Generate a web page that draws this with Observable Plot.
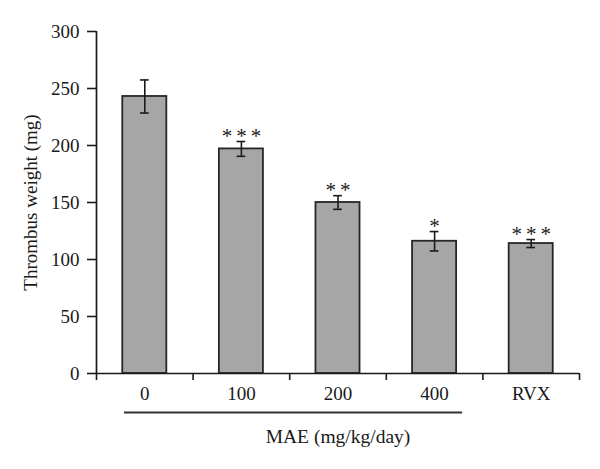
<!DOCTYPE html>
<html>
<head>
<meta charset="utf-8">
<script src="https://cdn.jsdelivr.net/npm/d3@7"></script>
<script src="https://cdn.jsdelivr.net/npm/@observablehq/plot@0.6"></script>
<style>
  html, body { margin: 0; padding: 0; background: #fff; }
  .stars text { letter-spacing: 4px; }
</style>
</head>
<body>
<div id="chart"></div>
<script>
const categories = ["0", "100", "200", "400", "RVX"];
const means = [243, 197, 150, 116, 114];
const errors = [14.5, 6.5, 6, 8.5, 3.5];
const stars = ["", "***", "**", "*", "***"];
const yTicks = [0, 50, 100, 150, 200, 250, 300];
const yLabel = "Thrombus weight (mg)";
const groupLabel = "MAE (mg/kg/day)";
const groupStart = 0; // index of "0"
const groupEnd = 3;   // index of "400"

const data = categories.map((c, i) => ({i, c, mean: means[i], err: errors[i], star: stars[i]}));
const boundaries = d3.range(categories.length + 1).map(k => k - 0.5);
const half = 0.228;
const cap = 0.045;
const ink = "#1a1a1a";

const chart = Plot.plot({
  width: 600,
  height: 469,
  marginLeft: 96,
  marginRight: 21,
  marginTop: 31,
  marginBottom: 96,
  style: {fontFamily: "'Liberation Serif', 'Times New Roman', serif", fontSize: "19px", color: ink, background: "#fff"},
  x: {type: "linear", domain: [-0.5, categories.length - 0.5]},
  y: {domain: [0, 300]},
  marks: [
    Plot.rectY(data, {x1: d => d.i - half, x2: d => d.i + half, y1: 0, y2: "mean", fill: "#a6a6a6", stroke: "#262626", strokeWidth: 1.8}),
    Plot.ruleX(data, {x: "i", y1: d => d.mean - d.err, y2: d => d.mean + d.err, stroke: ink, strokeWidth: 1.6}),
    Plot.ruleY(data, {y: d => d.mean + d.err, x1: d => d.i - cap, x2: d => d.i + cap, stroke: ink, strokeWidth: 1.6}),
    Plot.ruleY(data, {y: d => d.mean - d.err, x1: d => d.i - cap, x2: d => d.i + cap, stroke: ink, strokeWidth: 1.6}),
    Plot.text(data, {x: "i", y: d => d.mean + d.err, text: "star", lineAnchor: "bottom", dy: 1, dx: 2, fontSize: 21, fill: ink, className: "stars"}),
    Plot.ruleX([-0.5], {y1: 0, y2: 300, stroke: ink, strokeWidth: 1.7}),
    Plot.ruleY([0], {stroke: ink, strokeWidth: 1.7}),
    Plot.axisY({ticks: yTicks, tickSize: 9, tickPadding: 8, strokeWidth: 1.6, stroke: ink, fill: ink, label: yLabel, labelAnchor: "center", labelArrow: "none", labelOffset: 73, fontSize: 19}),
    Plot.axisX({ticks: boundaries, tickSize: 7, tickFormat: () => "", strokeWidth: 1.6, stroke: ink, label: null}),
    Plot.axisX({ticks: d3.range(categories.length), tickSize: 0, tickPadding: 13, tickFormat: i => categories[i], label: null, fontSize: 19, fill: ink}),
    Plot.ruleY([0], {x1: groupStart - 0.21, x2: groupEnd + 0.29, dy: 39, stroke: "#333", strokeWidth: 2}),
    Plot.text([groupLabel], {frameAnchor: "bottom", text: d => d, lineAnchor: "bottom", dy: 69, fontSize: 19.5, fill: ink})
  ]
});
document.getElementById("chart").appendChild(chart);
</script>
</body>
</html>
